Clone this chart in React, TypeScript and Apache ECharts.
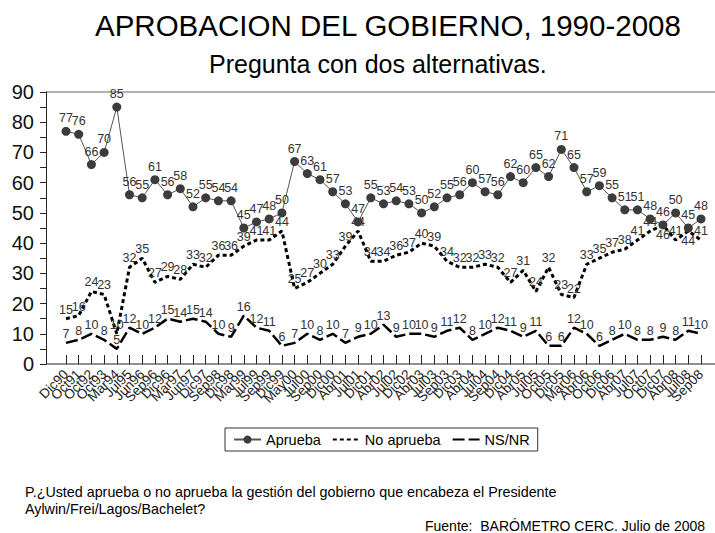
import React, { useEffect, useRef } from "react";
import * as echarts from "echarts";

const categories = [
  "Dic90", "Oct91", "Oct92", "Oct93", "Mar94", "Jul95", "Jun96", "Sep96", "Dic96", "Mar97",
  "Jun97", "Dic97", "Sep98", "Dic98", "Mar99", "Jul99", "Sep99", "Dic99", "May00", "Jul00",
  "Sep00", "Dic00", "Abr01", "Jul01", "Dic01", "Abr02", "Jul02", "Dic02", "Abr03", "Jul03",
  "Sep03", "Dic03", "Abr04", "Jul04", "Sep04", "Dic04", "Abr05", "Jul05", "Oct05", "Dic05",
  "Mar06", "Abr06", "Oct06", "Dic06", "Abr07", "Jul07", "Oct07", "Dic07", "Abr08", "Jul08",
  "Sep08",
];

const aprueba = [
  77, 76, 66, 70, 85, 56, 55, 61, 56, 58,
  52, 55, 54, 54, 45, 47, 48, 50, 67, 63,
  61, 57, 53, 47, 55, 53, 54, 53, 50, 52,
  55, 56, 60, 57, 56, 62, 60, 65, 62, 71,
  65, 57, 59, 55, 51, 51, 48, 46, 50, 45,
  48,
];

const noAprueba = [
  15, 16, 24, 23, 10, 32, 35, 27, 29, 28,
  33, 32, 36, 36, 39, 41, 41, 44, 25, 27,
  30, 33, 39, 44, 34, 34, 36, 37, 40, 39,
  34, 32, 32, 33, 32, 27, 31, 24, 32, 23,
  22, 33, 35, 37, 38, 41, 44, 46, 41, 44,
  41,
];

const nsnr = [
  7, 8, 10, 8, 5, 12, 10, 12, 15, 14,
  15, 14, 10, 9, 16, 12, 11, 6, 7, 10,
  8, 10, 7, 9, 10, 13, 9, 10, 10, 9,
  11, 12, 8, 10, 12, 11, 9, 11, 6, 6,
  12, 10, 6, 8, 10, 8, 8, 9, 8, 11,
  10,
];

// indices of "No aprueba" labels placed below the line to avoid colliding with "Aprueba" labels
const noAprLabelsBelow = [47, 49];

const seriesNames = ["Aprueba", "No aprueba", "NS/NR"];
const titleText = "APROBACION DEL GOBIERNO, 1990-2008";
const subtitleText = "Pregunta con dos alternativas.";
const noteLine1 = "P.¿Usted aprueba o no aprueba la gestión del gobierno que encabeza el Presidente";
const noteLine2 = "Aylwin/Frei/Lagos/Bachelet?";
const sourceText = "Fuente:  BARÓMETRO CERC. Julio de 2008";

const FONT = "'Liberation Sans', Arial, sans-serif";

export default function App() {
  const ref = useRef<HTMLDivElement>(null);

  useEffect(() => {
    if (!ref.current) return;
    const chart = echarts.init(ref.current, null, { renderer: "svg" });
    const labelStyle = {
      show: true,
      position: "top" as const,
      distance: 2,
      fontSize: 12.5,
      color: "#333",
      fontFamily: FONT,
    };
    const noAprData = noAprueba.map((v, i) =>
      noAprLabelsBelow.includes(i)
        ? { value: v, label: { position: "bottom" as const, distance: 3 } }
        : v
    );
    chart.setOption({
      animation: false,
      backgroundColor: "#fff",
      textStyle: { fontFamily: FONT },
      title: [
        {
          text: titleText,
          left: 90,
          top: 5,
          textStyle: { fontSize: 29.5, fontWeight: "normal", color: "#000", fontFamily: FONT },
        },
        {
          text: subtitleText,
          left: 204,
          top: 46,
          textStyle: { fontSize: 25, fontWeight: "normal", color: "#000", fontFamily: FONT },
        },
      ],
      legend: {
        data: seriesNames,
        left: 225,
        top: 428,
        orient: "horizontal",
        padding: [4, 8, 4, 8],
        itemWidth: 27,
        itemHeight: 10,
        itemGap: 11,
        borderColor: "#333",
        borderWidth: 1,
        textStyle: { fontSize: 14.5, color: "#000", fontFamily: FONT },
      },
      grid: { left: 66, right: 14, top: 92, bottom: 169, containLabel: false },
      xAxis: {
        type: "category",
        data: categories,
        boundaryGap: false,
        axisLine: { show: false },
        axisTick: { show: true, inside: true, length: 9, lineStyle: { color: "#222" } },
        axisLabel: {
          interval: 0,
          rotate: 45,
          fontSize: 13.5,
          color: "#222",
          margin: 8,
          fontFamily: FONT,
        },
        splitLine: { show: false },
      },
      yAxis: {
        type: "value",
        min: 0,
        max: 90,
        interval: 10,
        offset: 20,
        axisLine: { show: true, lineStyle: { color: "#222", width: 1 } },
        axisTick: { show: true, inside: false, length: 6, lineStyle: { color: "#222" } },
        minorTick: { show: true, splitNumber: 2, length: 6, lineStyle: { color: "#222" } },
        axisLabel: { fontSize: 20, color: "#111", margin: 12, fontFamily: FONT },
        splitLine: { show: false },
      },
      graphic: [
        { type: "line", shape: { x1: 46, y1: 364, x2: 715, y2: 364 }, style: { stroke: "#222", lineWidth: 1 } },
        { type: "line", shape: { x1: 46, y1: 92, x2: 715, y2: 92 }, style: { stroke: "#999", lineWidth: 1.5 } },
        { type: "text", left: 25, top: 485, style: { text: noteLine1, fontSize: 14.3, fill: "#000", fontFamily: FONT } },
        { type: "text", left: 25, top: 502, style: { text: noteLine2, fontSize: 14.3, fill: "#000", fontFamily: FONT } },
        { type: "text", left: 425, top: 519, style: { text: sourceText, fontSize: 14, fill: "#000", fontFamily: FONT } },
      ],
      series: [
        {
          name: seriesNames[0],
          type: "line",
          data: aprueba,
          symbol: "circle",
          symbolSize: 9,
          itemStyle: { color: "#3c3c3c" },
          lineStyle: { color: "#555", width: 1 },
          label: labelStyle,
          z: 5,
        },
        {
          name: seriesNames[1],
          type: "line",
          data: noAprData,
          symbol: "circle",
          symbolSize: 1,
          itemStyle: { color: "rgba(0,0,0,0)" },
          lineStyle: { color: "#000", width: 3, type: [4, 3] },
          label: labelStyle,
          z: 4,
        },
        {
          name: seriesNames[2],
          type: "line",
          data: nsnr,
          symbol: "circle",
          symbolSize: 1,
          itemStyle: { color: "rgba(0,0,0,0)" },
          lineStyle: { color: "#000", width: 2.5, type: [12, 4] },
          label: labelStyle,
          z: 3,
        },
      ],
    });
    return () => chart.dispose();
  }, []);

  return (
    <div
      ref={ref}
      style={{ position: "fixed", left: 0, top: 0, width: 715, height: 533 }}
    />
  );
}
